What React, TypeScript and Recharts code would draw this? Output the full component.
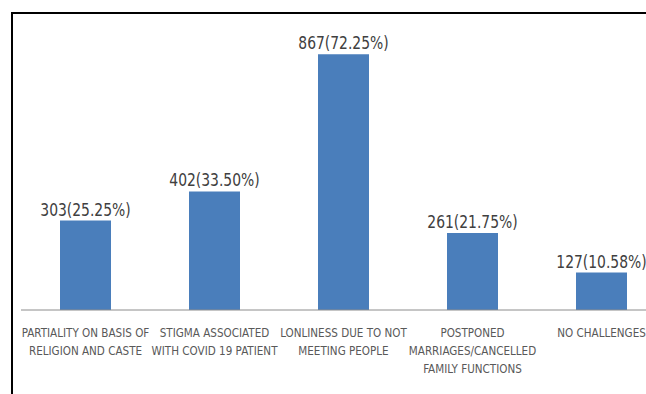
import React from 'react';
import { BarChart, Bar, XAxis, YAxis, LabelList } from 'recharts';

const categories = [
  'PARTIALITY ON BASIS OF\nRELIGION AND CASTE',
  'STIGMA ASSOCIATED\nWITH COVID 19 PATIENT',
  'LONLINESS DUE TO NOT\nMEETING PEOPLE',
  'POSTPONED\nMARRIAGES/CANCELLED\nFAMILY FUNCTIONS',
  'NO CHALLENGES',
];
const counts = [303, 402, 867, 261, 127];
const percents = ['25.25', '33.50', '72.25', '21.75', '10.58'];

const data = categories.map((name, i) => ({
  name,
  count: counts[i],
  label: `${counts[i]}(${percents[i]}%)`,
}));

const FONT = '"Liberation Sans Narrow", "DejaVu Sans Condensed", "Liberation Sans", sans-serif';

// condensed look of the original, squeezed horizontally
const CategoryTick = ({ x, y, payload }: any) => {
  const lines = String(payload.value).split('\n');
  return (
    <g transform={`translate(${x},${y}) scale(0.89,1)`}>
      <text x={0} y={0} textAnchor="middle" fill="#595959" fontSize={13} fontFamily={FONT}>
        {lines.map((line, i) => (
          <tspan key={i} x={0} dy={i === 0 ? 19 : 18}>
            {line}
          </tspan>
        ))}
      </text>
    </g>
  );
};

const ValueLabel = ({ x, y, width, value }: any) => (
  <g transform={`translate(${x + width / 2},${y - 5}) scale(0.86,1)`}>
    <text x={0} y={0} textAnchor="middle" fill="#404040" fontSize={18} fontFamily={FONT}>
      {value}
    </text>
  </g>
);

export default function App() {
  return (
    <div
      style={{
        position: 'absolute',
        left: 0,
        top: 0,
        width: 646,
        height: 394,
        overflow: 'hidden',
        background: '#fff',
      }}
    >
      <div
        style={{
          position: 'absolute',
          left: 11,
          top: 12,
          width: 700,
          height: 400,
          borderLeft: '2px solid #000',
          borderTop: '2px solid #000',
        }}
      />
      <div style={{ position: 'absolute', left: 0, top: 0 }}>
        <BarChart
          width={666}
          height={394}
          data={data}
          margin={{ top: 15, right: 0, bottom: 0, left: 21 }}
          barSize={51}
        >
          <YAxis hide domain={[0, 1000]} />
          <XAxis
            dataKey="name"
            height={84}
            interval={0}
            axisLine={{ stroke: '#8c8c8c', strokeWidth: 1 }}
            tickLine={false}
            tick={<CategoryTick />}
          />
          <Bar dataKey="count" fill="#4a7ebb" isAnimationActive={false}>
            <LabelList dataKey="label" content={<ValueLabel />} />
          </Bar>
        </BarChart>
      </div>
    </div>
  );
}
